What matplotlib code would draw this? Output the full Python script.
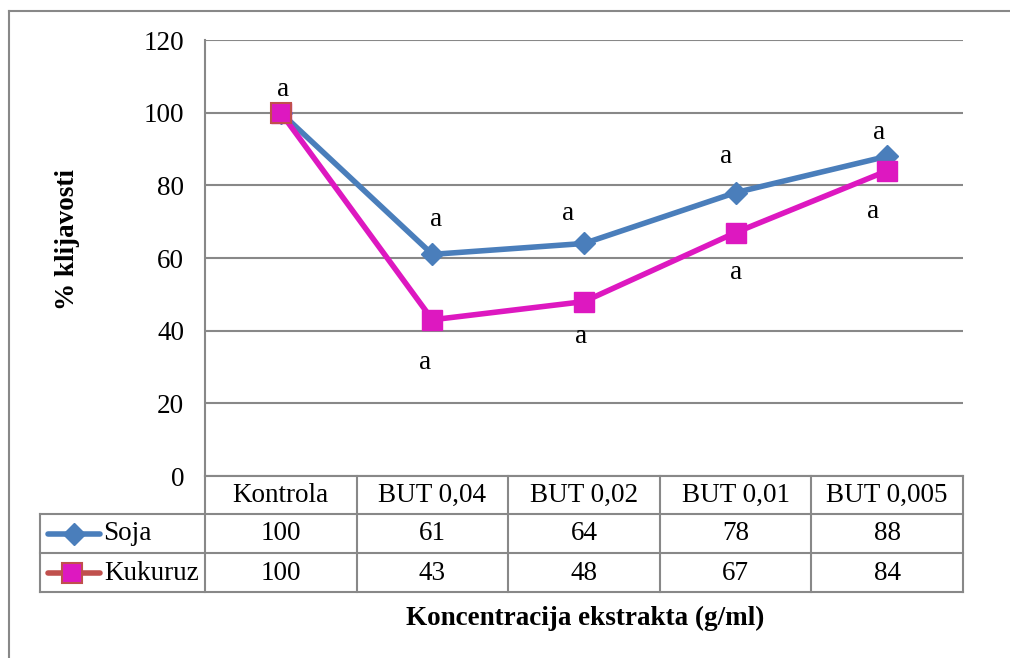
import matplotlib
matplotlib.use("Agg")
import matplotlib.pyplot as plt
from matplotlib.lines import Line2D

plt.rcParams['font.family'] = ['Liberation Serif', 'DejaVu Serif']

categories = ["Kontrola", "BUT 0,04", "BUT 0,02", "BUT 0,01", "BUT 0,005"]
soja = [100, 61, 64, 78, 88]
kukuruz = [100, 43, 48, 67, 84]
soja_letters = ["", "a", "a", "a", "a"]
kukuruz_letters = ["a", "a", "a", "a", "a"]
yticks = [0, 20, 40, 60, 80, 100, 120]

FS = 19.5
W, H = 1010, 658
fig = plt.figure(figsize=(W / 100, H / 100), dpi=100)

def fx(px):
    return px / W

def fy(py):
    return 1 - py / H

L, R, T, B = 205, 963, 40, 476
ax = fig.add_axes([fx(L), fy(B), fx(R) - fx(L), fy(T) - fy(B)])

grid_c = "#888888"
soja_c = "#4A7EBB"
kuk_c = "#DD18C0"
kuk_legend_c = "#C0504D"

n = len(categories)
x = list(range(n))
ax.set_xlim(-0.5, n - 0.5)
ax.set_ylim(0, 120)
ax.set_yticks(yticks)
ax.set_yticklabels([str(v) for v in yticks], fontsize=FS)
ax.tick_params(axis='y', length=0, pad=15)
ax.set_xticks([])
for s in ["top", "right", "bottom"]:
    ax.spines[s].set_visible(False)
ax.spines["left"].set_color(grid_c)
ax.spines["left"].set_linewidth(1.5)
ax.yaxis.grid(True, color=grid_c, linewidth=1.5)
ax.set_axisbelow(True)

ax.plot(x, soja, color=soja_c, linewidth=4, marker="D", markersize=11,
        markerfacecolor=soja_c, markeredgecolor=soja_c, zorder=3, clip_on=False)
ax.plot(x, kukuruz, color=kuk_c, linewidth=4, marker="s", markersize=14,
        markerfacecolor=kuk_c, markeredgecolor=kuk_c, zorder=4, clip_on=False)
# first Kukuruz marker has red outline
ax.plot(x[:1], kukuruz[:1], linestyle="none", marker="s", markersize=14,
        markerfacecolor=kuk_c, markeredgecolor=kuk_legend_c, markeredgewidth=1.5,
        zorder=5, clip_on=False)

# letter offsets in pixels (dx, dy of glyph centre; baseline is ~6 px below centre)
soja_dx = [0, 4, -16, -10, -8]
soja_dy = [0, 34, 29, 36, 23]
kuk_dx = [2, -7, -3, 0, -14]
kuk_dy = [23, -43, -35, -40, -41]
for i in range(n):
    if soja_letters[i]:
        ax.annotate(soja_letters[i], (x[i], soja[i]), xytext=(soja_dx[i], soja_dy[i] - 6),
                    textcoords="offset pixels", ha="center", va="baseline", fontsize=FS)
for i in range(n):
    ax.annotate(kukuruz_letters[i], (x[i], kukuruz[i]), xytext=(kuk_dx[i], kuk_dy[i] - 6),
                textcoords="offset pixels", ha="center", va="baseline", fontsize=FS)

# ----- data table -----
row_y = [476, 514, 553, 592]
legend_left = 40
colw = (R - L) / n
lw = 1.5
fig.add_artist(Line2D([fx(L), fx(R)], [fy(row_y[0]), fy(row_y[0])], color=grid_c, lw=lw))
for yy in row_y[1:]:
    fig.add_artist(Line2D([fx(legend_left), fx(R)], [fy(yy), fy(yy)], color=grid_c, lw=lw))
for k in range(n + 1):
    xx = L + k * colw
    fig.add_artist(Line2D([fx(xx), fx(xx)], [fy(row_y[0]), fy(row_y[3])], color=grid_c, lw=lw))
fig.add_artist(Line2D([fx(legend_left), fx(legend_left)], [fy(row_y[1]), fy(row_y[3])], color=grid_c, lw=lw))

def mid(a, b):
    return (a + b) / 2

def cell_text(xp, yc, s, ha="center"):
    # place by baseline so that cap/digit glyphs are centred in the row
    fig.text(fx(xp), fy(yc + 7), s, ha=ha, va="baseline", fontsize=FS)

for k, c in enumerate(categories):
    cx = L + (k + 0.5) * colw
    cell_text(cx, mid(row_y[0], row_y[1]), c)
    cell_text(cx, mid(row_y[1], row_y[2]), str(soja[k]))
    cell_text(cx, mid(row_y[2], row_y[3]), str(kukuruz[k]))

ys = mid(row_y[1], row_y[2])
yk = mid(row_y[2], row_y[3])
fig.add_artist(Line2D([fx(48), fx(100)], [fy(ys), fy(ys)], color=soja_c, lw=4, solid_capstyle="round"))
fig.add_artist(Line2D([fx(74)], [fy(ys)], color=soja_c, marker="D", markersize=11, linestyle="none"))
fig.add_artist(Line2D([fx(48), fx(100)], [fy(yk), fy(yk)], color=kuk_legend_c, lw=4, solid_capstyle="round"))
fig.add_artist(Line2D([fx(72)], [fy(yk)], marker="s", markersize=14, markerfacecolor=kuk_c,
                      markeredgecolor=kuk_legend_c, markeredgewidth=1.5, linestyle="none"))
cell_text(103, ys, "Soja", ha="left")
cell_text(104, yk, "Kukuruz", ha="left")

# axis titles
fig.text(fx(68), fy(240), "% klijavosti", rotation=90, ha="center", va="center",
         fontsize=FS, fontweight="bold")
fig.text(fx(585), fy(618), "Koncentracija ekstrakta (g/ml)", ha="center", va="center",
         fontsize=FS, fontweight="bold")

# outer chart frame (left and top visible)
fig.add_artist(Line2D([fx(9), fx(9)], [fy(11), 0], color=grid_c, lw=1.5))
fig.add_artist(Line2D([fx(9), 1], [fy(11), fy(11)], color=grid_c, lw=1.5))

fig.savefig("out.png", dpi=100)
